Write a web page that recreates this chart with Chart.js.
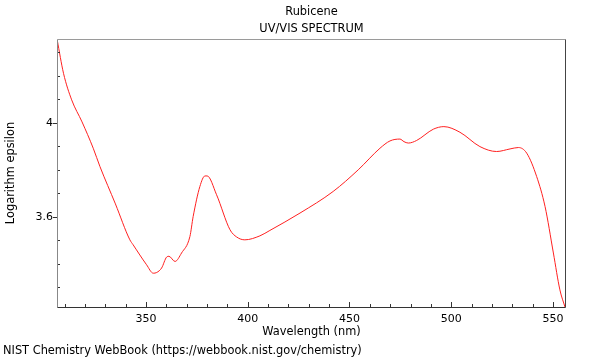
<!DOCTYPE html>
<html lang="en">
<head>
<meta charset="UTF-8">
<title>Rubicene UV/VIS Spectrum</title>
<script src="https://cdn.jsdelivr.net/npm/chart.js"></script>
<style>
    html, body { margin: 0; padding: 0; background: #fff; }
    #wrap { width: 600px; height: 360px; }
</style>
</head>
<body>
<div id="wrap"><canvas id="spec" width="600" height="360"></canvas></div>
<script>
// spectrum: wavelength (nm) and log epsilon
const wavelength = [306.4, 309.5, 313.5, 318.6, 324.1, 327.4, 335.0, 342.1, 343.7, 350.3,
    353.6, 355.3, 357.7, 360.2, 361.3, 364.3, 367.5, 371.6, 373.2, 376.5,
    379.0, 380.1, 384.7, 391.3, 394.6, 398.6, 406.0, 410.9, 425.7, 442.0,
    454.3, 465.0, 469.9, 474.8, 476.8, 478.9, 483.0, 491.2, 496.4, 504.3,
    514.1, 522.3, 528.9, 533.0, 537.1, 542.0, 546.1, 550.2, 553.4, 555.9];
const logEps = [4.353, 4.211, 4.098, 4.004, 3.892, 3.814, 3.655, 3.502, 3.481, 3.396,
    3.360, 3.363, 3.382, 3.429, 3.432, 3.410, 3.446, 3.516, 3.601, 3.729,
    3.774, 3.774, 3.694, 3.545, 3.514, 3.502, 3.519, 3.542, 3.616, 3.708,
    3.800, 3.892, 3.923, 3.931, 3.920, 3.914, 3.925, 3.973, 3.984, 3.960,
    3.899, 3.878, 3.889, 3.895, 3.871, 3.771, 3.644, 3.446, 3.289, 3.216];

const xMajor = [350, 400, 450, 500, 550];
const xMinor = [310, 320, 330, 340, 360, 370, 380, 390, 410, 420, 430, 440,
    460, 470, 480, 490, 510, 520, 530, 540];
const yMajor = [3.6, 4];
const yMinor = [3.3, 3.4, 3.5, 3.7, 3.8, 3.9, 4.1, 4.2, 4.3];

const font = { family: 'DejaVu Sans', size: 11.4, lineHeight: 1.2 };
const tickFont = { family: 'DejaVu Sans', size: 11 };

// center the title over the plot box instead of the whole canvas
const titleOverPlot = {
    id: 'titleOverPlot',
    afterLayout(chart) {
        const t = chart.titleBlock;
        if (!t) return;
        t.left = chart.chartArea.left;
        t.right = chart.chartArea.right;
        t.width = t.right - t.left;
    }
};

// frame and inward ticks like the NIST plot
const frameTicks = {
    id: 'frameTicks',
    afterDatasetsDraw(chart) {
        const { ctx, chartArea: a, scales: { x, y } } = chart;
        ctx.save();
        ctx.lineWidth = 1;
        ctx.strokeStyle = '#333';
        ctx.beginPath();
        xMinor.forEach(v => { const p = Math.round(x.getPixelForValue(v)) + 0.5; ctx.moveTo(p, a.bottom); ctx.lineTo(p, a.bottom - 3); });
        xMajor.forEach(v => { const p = Math.round(x.getPixelForValue(v)) + 0.5; ctx.moveTo(p, a.bottom); ctx.lineTo(p, a.bottom - 5); });
        yMinor.forEach(v => { const p = Math.round(y.getPixelForValue(v)) + 0.5; ctx.moveTo(a.left, p); ctx.lineTo(a.left + 3, p); });
        yMajor.forEach(v => { const p = Math.round(y.getPixelForValue(v)) + 0.5; ctx.moveTo(a.left, p); ctx.lineTo(a.left - 4, p); });
        ctx.stroke();

        const L = Math.round(a.left) + 0.5, R = Math.round(a.right) - 0.5;
        const T = Math.round(a.top) + 0.5, B = Math.round(a.bottom) + 0.5;
        const seg = (c, x1, y1, x2, y2) => {
            ctx.strokeStyle = c; ctx.beginPath(); ctx.moveTo(x1, y1); ctx.lineTo(x2, y2); ctx.stroke();
        };
        seg('#9a9a9a', L, T, R, T);
        seg('#888', L, T, L, B);
        seg('#444', R, T, R, B);
        seg('#333', L, B, R, B);
        ctx.restore();
    }
};

new Chart(document.getElementById('spec'), {
    type: 'line',
    data: {
        labels: wavelength,
        datasets: [{
            data: wavelength.map((w, i) => ({ x: w, y: logEps[i] })),
            borderColor: '#ff2020',
            borderWidth: 1,
            pointRadius: 0,
            fill: false,
            cubicInterpolationMode: 'monotone'
        }]
    },
    options: {
        responsive: false,
        animation: false,
        layout: { padding: { left: 3, right: 34, top: 0, bottom: 0 } },
        plugins: {
            legend: { display: false },
            tooltip: { enabled: false },
            title: {
                display: true,
                text: ['Rubicene', 'UV/VIS SPECTRUM'],
                color: '#000',
                font: { ...font, weight: 'normal', lineHeight: '17.5px' },
                padding: { top: 3, bottom: 1 }
            },
            subtitle: {
                display: true,
                position: 'bottom',
                align: 'start',
                text: 'NIST Chemistry WebBook (https://webbook.nist.gov/chemistry)',
                color: '#000',
                font,
                padding: { top: 0, bottom: 2 }
            }
        },
        scales: {
            x: {
                type: 'linear',
                min: 306.3,
                max: 556.4,
                grid: { display: false, drawTicks: false },
                border: { display: false },
                afterBuildTicks: s => { s.ticks = xMajor.map(v => ({ value: v })); },
                afterFit: s => { s.height = 37.3; },
                ticks: { color: '#000', font: tickFont, padding: 6, maxRotation: 0, autoSkip: false },
                title: { display: true, text: 'Wavelength (nm)', color: '#000', font, padding: { top: 0, bottom: 5 } }
            },
            y: {
                min: 3.216,
                max: 4.357,
                grid: { display: false, drawTicks: false },
                border: { display: false },
                afterBuildTicks: s => { s.ticks = yMajor.map(v => ({ value: v })); },
                afterFit: s => { s.width = 54; },
                ticks: { color: '#000', font: tickFont, padding: 4, autoSkip: false, callback: v => String(v) },
                title: { display: true, text: 'Logarithm epsilon', color: '#000', font, padding: { top: 1, bottom: 1 } }
            }
        }
    },
    plugins: [titleOverPlot, frameTicks]
});
</script>
</body>
</html>
